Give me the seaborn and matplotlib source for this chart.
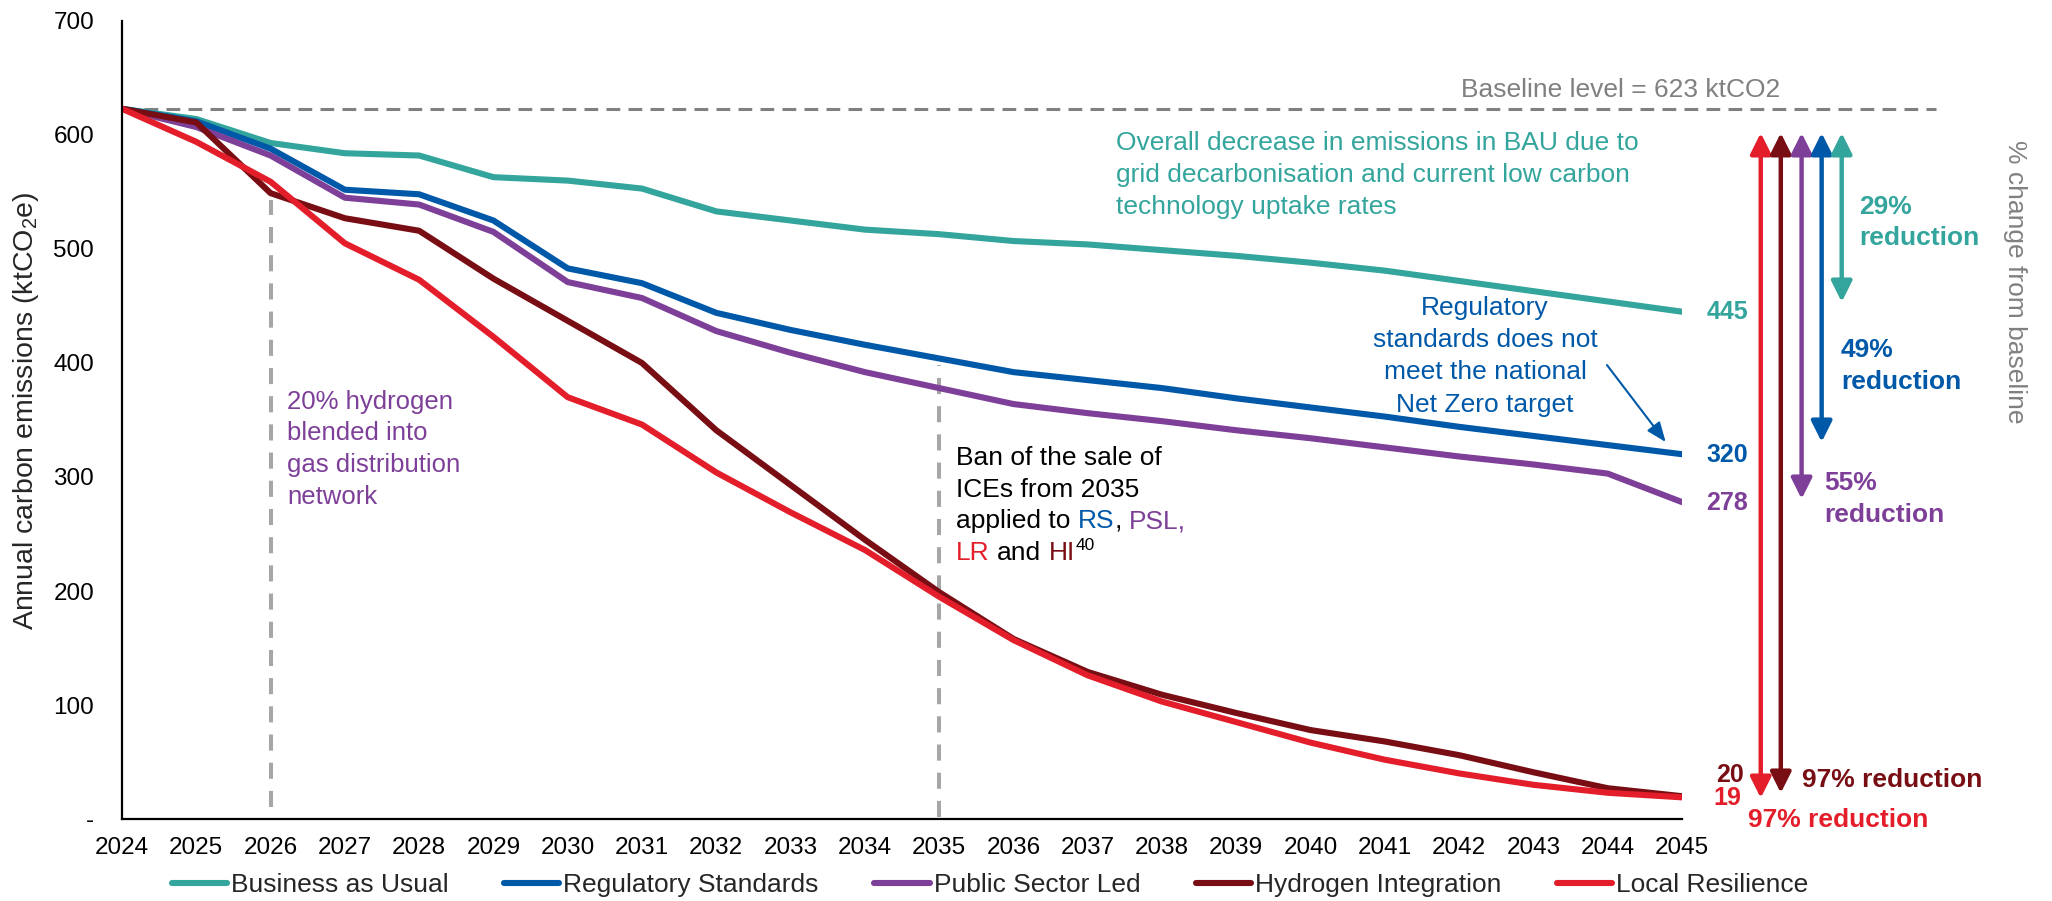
import numpy as np
import pandas as pd
import matplotlib
matplotlib.use("Agg")
import matplotlib.pyplot as plt
import seaborn as sns
from matplotlib.patches import FancyArrowPatch

# Emission pathways (ktCO2e)
years = list(range(2024, 2046))
bau = [623, 614, 593, 584, 582, 563, 560, 553, 533, 525, 517, 513, 507, 504, 499,
       494, 488, 481, 472, 463, 454, 445]
reg_std = [623, 612, 588, 552, 548, 525, 483, 470, 444, 429, 416, 404, 392, 385, 378,
           369, 361, 353, 344, 336, 328, 320]
public_led = [623, 607, 582, 545, 539, 515, 471, 457, 428, 409, 392, 378, 364, 356, 349,
              341, 334, 326, 318, 311, 303, 278]
hydrogen = [623, 611, 549, 527, 516, 474, 437, 400, 341, 293, 245, 199, 158, 129, 109,
            93, 78, 68, 56, 41, 27, 20]
local_res = [623, 594, 559, 505, 473, 423, 370, 346, 304, 269, 236, 195, 157, 126, 103,
             85, 67, 52, 40, 30, 23, 19]

scenarios = ["Business as Usual", "Regulatory Standards", "Public Sector Led",
             "Hydrogen Integration", "Local Resilience"]
series = [bau, reg_std, public_led, hydrogen, local_res]
colors = ["#33A59C", "#0058A8", "#7D3F98", "#780E14", "#E31E2A"]
end_values = [445, 320, 278, 20, 19]
reductions = ["29%", "49%", "55%", "97%", "97%"]
baseline = 623

df = pd.DataFrame({
    "Year": years * len(scenarios),
    "Emissions": sum(series, []),
    "Scenario": [s for s in scenarios for _ in years],
})

sns.set_theme(style="white")
plt.rcParams['font.family'] = ['Liberation Sans', 'DejaVu Sans']
plt.rcParams['mathtext.fontset'] = 'custom'
plt.rcParams['mathtext.rm'] = 'Liberation Sans'
plt.rcParams['mathtext.it'] = 'Liberation Sans'

W, H = 2052, 901
fig = plt.figure(figsize=(W / 100, H / 100), dpi=100)
ax = fig.add_axes([122 / W, 1 - 819 / H, 1560 / W, 798 / H])

sns.lineplot(data=df, x="Year", y="Emissions", hue="Scenario", hue_order=scenarios,
             palette=colors, linewidth=4.4, ax=ax)
for l in ax.lines:
    l.set_solid_joinstyle('round')

ax.set_xlim(2024, 2045)
ax.set_ylim(0, 700)
ax.set_xticks(years)
ax.set_xticklabels([str(y) for y in years])
ax.set_yticks(range(0, 701, 100))
ax.set_yticklabels(["-"] + [str(v) for v in range(100, 701, 100)])
ax.tick_params(axis='both', length=0, labelsize=17.5, colors='black')
ax.tick_params(axis='y', pad=20)
ax.tick_params(axis='x', pad=13)
ax.set_xlabel("")
ax.set_ylabel("Annual carbon emissions (ktCO$_2$e)", fontsize=20.5)
ax.yaxis.set_label_coords(-0.052, 0.511)
sns.despine(ax=ax)
ax.spines['left'].set_color('black')
ax.spines['bottom'].set_color('black')
ax.spines['left'].set_linewidth(1.6)
ax.spines['bottom'].set_linewidth(1.6)

# legend below the chart
handles, labels = ax.get_legend_handles_labels()
ax.get_legend().remove()
leg = fig.legend(handles, labels, loc='center', bbox_to_anchor=(990 / W, 1 - 885 / H),
                 ncol=5, frameon=False, fontsize=19, handlelength=2.1,
                 handletextpad=0.15, columnspacing=2.1)
for h in leg.get_lines():
    h.set_linewidth(4.4)
    h.set_solid_capstyle('round')

# baseline and milestone lines
ax.plot([2024, 2048.42], [baseline, baseline], color='#808080', lw=2.2,
        ls=(0, (4.5, 2.7)), clip_on=False, zorder=1)
ax.plot([2026, 2026], [10.5, 543], color='#A6A6A6', lw=2.9, ls=(0, (4, 3)), zorder=1)
ax.plot([2035, 2035], [1.8, 398], color='#A6A6A6', lw=2.9, ls=(0, (4, 3)), zorder=1)


def put(px, py, s, **kw):
    kw.setdefault('va', 'center')
    return fig.text(px / W, 1 - py / H, s, **kw)


put(1621, 90, "Baseline level = 623 ktCO2", color='#808080', fontsize=19, ha='center')

teal_lines = ["Overall decrease in emissions in BAU due to",
              "grid decarbonisation and current low carbon",
              "technology uptake rates"]
for s, py in zip(teal_lines, [143, 175, 207]):
    put(1116, py, s, color=colors[0], fontsize=19)

blue_lines = ["Regulatory", "standards does not", "meet the national", "Net Zero target"]
for s, py in zip(blue_lines, [308, 340, 372, 405]):
    put(1485, py, s, color=colors[1], fontsize=19, ha='center')
ax.annotate("", xy=(2044.78, 330.7), xytext=(2043.99, 398.2),
            arrowprops=dict(arrowstyle="-|>,head_length=1.0,head_width=0.4",
                            mutation_scale=12, color=colors[1], lw=1.5,
                            shrinkA=0, shrinkB=0), annotation_clip=False)

purple_lines = ["20% hydrogen", "blended into", "gas distribution", "network"]
for s, py in zip(purple_lines, [402, 433, 465, 497]):
    put(287, py, s, color=colors[2], fontsize=18.5)

# multi-coloured note on the ICE ban
renderer = fig.canvas.get_renderer()
p1 = put(0, 0, "a a", fontsize=19)
p2 = put(0, 0, "aa", fontsize=19)
space = p1.get_window_extent(renderer).width - p2.get_window_extent(renderer).width
p1.remove()
p2.remove()


def rich_line(px, py, parts):
    x = px
    for s, c, gap in parts:
        if gap:
            x += space
        t = put(x, py, s, color=c, fontsize=19)
        x = t.get_window_extent(renderer).x1
    return x


put(956, 458, "Ban of the sale of", color='black', fontsize=19)
put(956, 490, "ICEs from 2035", color='black', fontsize=19)
rich_line(956, 521, [("applied to", 'black', False), ("RS", colors[1], True),
                     (",", 'black', False), ("PSL,", colors[2], True)])
xe = rich_line(956, 553, [("LR", colors[4], False), ("and", 'black', True),
                          ("HI", colors[3], True)])
put(xe + 1, 545, "40", color='black', fontsize=12.5)

# end-of-series values
end_pos = [(1727, 312), (1727, 455), (1727, 503), (1730, 775), (1727, 798)]
for (px, py), v, c in zip(end_pos, end_values, colors):
    put(px, py, str(v), color=c, fontsize=18, fontweight='bold', ha='center')

# reduction arrows, from the baseline level down to each 2045 value
arrow_x = [2046.06, 2046.33, 2046.61, 2046.88, 2047.15]
arrow_bottom = [18.4, 22.8, 280.7, 330.7, 453.5]
arrow_cols = [colors[4], colors[3], colors[2], colors[1], colors[0]]
for x, yb, c in zip(arrow_x, arrow_bottom, arrow_cols):
    arr = FancyArrowPatch((x, yb), (x, 601.8),
                          arrowstyle="<|-|>,head_length=1.0,head_width=0.5",
                          mutation_scale=12.5, color=c, lw=3.2,
                          shrinkA=0, shrinkB=0, clip_on=False)
    ax.add_patch(arr)

put(1859, 207, reductions[0], color=colors[0], fontsize=19, fontweight='bold')
put(1859, 238, "reduction", color=colors[0], fontsize=19, fontweight='bold')
put(1841, 350, reductions[1], color=colors[1], fontsize=19, fontweight='bold')
put(1841, 382, "reduction", color=colors[1], fontsize=19, fontweight='bold')
put(1824, 483, reductions[2], color=colors[2], fontsize=19, fontweight='bold')
put(1824, 515, "reduction", color=colors[2], fontsize=19, fontweight='bold')
put(1802, 780, reductions[3] + " reduction", color=colors[3], fontsize=19, fontweight='bold')
put(1748, 820, reductions[4] + " reduction", color=colors[4], fontsize=19, fontweight='bold')

put(2015, 282, "% change from baseline", color='#808080', fontsize=19,
    rotation=-90, ha='center')

plt.savefig("out.png", dpi=100)
plt.close()
